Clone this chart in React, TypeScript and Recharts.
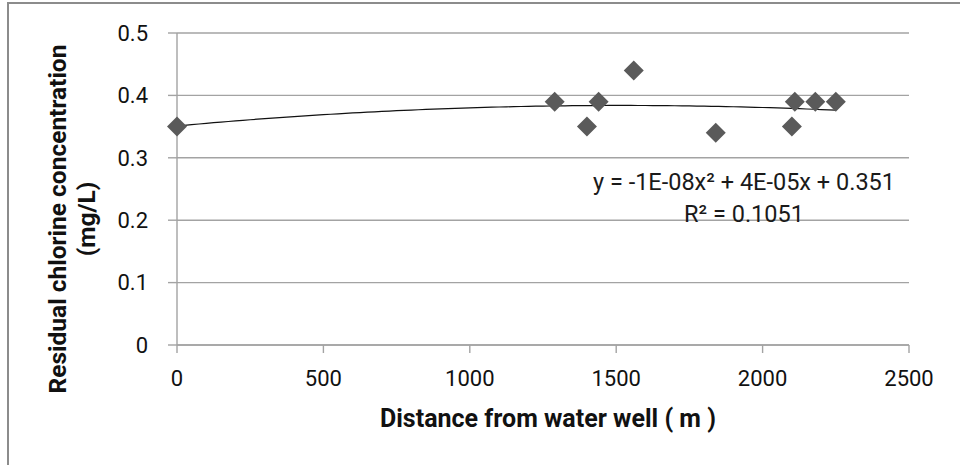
import React from 'react';
import { ScatterChart, Scatter, XAxis, YAxis, CartesianGrid, Customized } from 'recharts';

// Measured residual chlorine along the distribution line
const distance = [0, 1290, 1400, 1440, 1560, 1840, 2100, 2110, 2180, 2250];
const chlorine = [0.35, 0.39, 0.35, 0.39, 0.44, 0.34, 0.35, 0.39, 0.39, 0.39];

const xTicks = [0, 500, 1000, 1500, 2000, 2500];
const yTicks = [0, 0.1, 0.2, 0.3, 0.4, 0.5];

const equationText = 'y = -1E-08x\u00B2 + 4E-05x + 0.351';
const rSquaredText = 'R\u00B2 = 0.1051';
const xTitle = 'Distance from water well ( m )';
const yTitleLines = ['Residual chlorine concentration', '(mg/L)'];

const FONT = "Roboto, 'Liberation Sans', sans-serif";
const GRID = '#a3a3a3';

const points = distance.map((x, i) => ({ x, y: chlorine[i] }));

// Least-squares second-order polynomial (y = a x^2 + b x + c)
function fitQuadratic(xs: number[], ys: number[]) {
  const u = xs.map((x) => x / 1000);
  let s0 = 0, s1 = 0, s2 = 0, s3 = 0, s4 = 0, t0 = 0, t1 = 0, t2 = 0;
  u.forEach((v, i) => {
    const y = ys[i];
    s0 += 1; s1 += v; s2 += v * v; s3 += v ** 3; s4 += v ** 4;
    t0 += y; t1 += v * y; t2 += v * v * y;
  });
  const det3 = (m: number[][]) =>
    m[0][0] * (m[1][1] * m[2][2] - m[1][2] * m[2][1]) -
    m[0][1] * (m[1][0] * m[2][2] - m[1][2] * m[2][0]) +
    m[0][2] * (m[1][0] * m[2][1] - m[1][1] * m[2][0]);
  const A = [[s4, s3, s2], [s3, s2, s1], [s2, s1, s0]];
  const B = [t2, t1, t0];
  const D = det3(A);
  const col = (k: number) => A.map((row, r) => row.map((v, c) => (c === k ? B[r] : v)));
  const a = det3(col(0)) / D;
  const b = det3(col(1)) / D;
  const c = det3(col(2)) / D;
  return (x: number) => {
    const v = x / 1000;
    return a * v * v + b * v + c;
  };
}

const trendFn = fitQuadratic(distance, chlorine);
const xMax = Math.max(...distance);
const trend = Array.from({ length: 91 }, (_, i) => {
  const x = (xMax * i) / 90;
  return { x, y: trendFn(x) };
});

const Diamond = (props: any) => {
  const { cx, cy } = props;
  if (cx == null || cy == null) return <g />;
  const r = 10;
  return (
    <polygon
      points={`${cx},${cy - r} ${cx + r},${cy} ${cx},${cy + r} ${cx - r},${cy}`}
      fill="#5a5a5a"
    />
  );
};

const NoMarker = () => <g />;

const Annotations = () => (
  <g fontFamily={FONT}>
    <text x={736} y={187} textAnchor="middle" fontSize={23.5} fill="#1a1a1a">
      {equationText}
    </text>
    <text x={736} y={219} textAnchor="middle" fontSize={23.5} fill="#1a1a1a">
      {rSquaredText}
    </text>
    <text x={540} y={424} textAnchor="middle" fontSize={25} fontWeight="bold" fill="#111">
      {xTitle}
    </text>
    <text transform="translate(58,216) rotate(-90)" textAnchor="middle" fontSize={24.5} fontWeight="bold" fill="#111">
      {yTitleLines[0]}
    </text>
    <text transform="translate(87,216) rotate(-90)" textAnchor="middle" fontSize={24.5} fontWeight="bold" fill="#111">
      {yTitleLines[1]}
    </text>
  </g>
);

export default function App() {
  return (
    <>
      <style>{'html,body{overflow:hidden}'}</style>
      {/* chart frame: only its top and left edges fall inside the view */}
      <div
        style={{
          position: 'absolute',
          left: 7,
          top: 2,
          width: 960,
          height: 470,
          borderTop: '2px solid #8c8c8c',
          borderLeft: '2px solid #8c8c8c',
          background: '#fff',
        }}
      />
      <div style={{ position: 'absolute', left: 8, top: 3 }}>
        <ScatterChart width={952} height={462} margin={{ top: 30, right: 51, bottom: 60, left: 0 }}>
          <CartesianGrid horizontal vertical={false} stroke={GRID} strokeWidth={1.4} />
          <XAxis
            type="number"
            dataKey="x"
            domain={[0, 2500]}
            ticks={xTicks}
            interval={0}
            height={60}
            tickSize={8}
            tickMargin={17}
            axisLine={{ stroke: GRID, strokeWidth: 1.4 }}
            tickLine={{ stroke: GRID, strokeWidth: 1.4 }}
            tick={{ fontSize: 22, fontFamily: FONT, fill: '#111' }}
          />
          <YAxis
            type="number"
            dataKey="y"
            domain={[0, 0.5]}
            ticks={yTicks}
            interval={0}
            width={169}
            tickSize={9}
            tickMargin={20}
            axisLine={{ stroke: GRID, strokeWidth: 1.4 }}
            tickLine={{ stroke: GRID, strokeWidth: 1.4 }}
            tick={{ fontSize: 22, fontFamily: FONT, fill: '#111' }}
          />
          <Scatter
            data={trend}
            line={{ stroke: '#111', strokeWidth: 1.2 }}
            shape={NoMarker}
            isAnimationActive={false}
          />
          <Scatter data={points} shape={Diamond} isAnimationActive={false} />
          <Customized component={Annotations} />
        </ScatterChart>
      </div>
    </>
  );
}
